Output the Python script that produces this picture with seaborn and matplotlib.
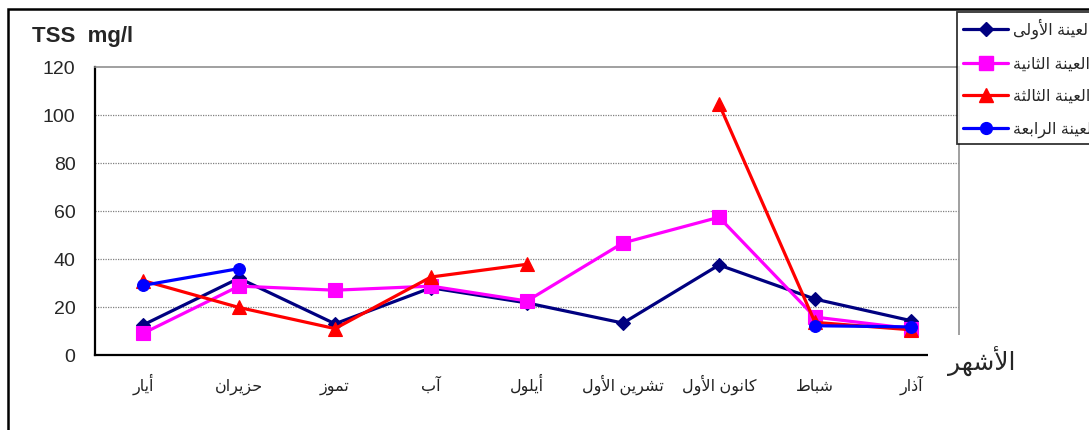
import numpy as np
import pandas as pd
import matplotlib
matplotlib.use("Agg")
import matplotlib.pyplot as plt
from matplotlib.lines import Line2D
from matplotlib.patches import Rectangle
import seaborn as sns

# ---------------- data ----------------
months = ['أيار', 'حزيران', 'تموز', 'آب', 'أيلول', 'تشرين الأول', 'كانون الأول', 'شباط', 'آذار']
series_names = ['العينة الأولى', 'العينة الثانية', 'العينة الثالثة', 'العينة الرابعة']
sample1 = [12.5, 32, 13, 28, 21.7, 13.3, 37.5, 23.3, 14.3]
sample2 = [9, 28.7, 27, 28.7, 22.5, 46.7, 57.4, 15.8, 11]
sample3 = [31, 19.8, 11, 32.5, 37.8, np.nan, 104.6, 13.6, 10.5]
sample4 = [29, 36, np.nan, np.nan, np.nan, np.nan, np.nan, 12.2, 11.7]
y_ticks = [0, 20, 40, 60, 80, 100, 120]
title_text = 'TSS  mg/l'
xlabel_text = 'الأشهر'

# ---------------- minimal Arabic shaping (presentation forms + visual order) ----------------
FORMS = {
    'ا': ('\uFE8D', '\uFE8E'), 'أ': ('\uFE83', '\uFE84'), 'آ': ('\uFE81', '\uFE82'),
    'ب': ('\uFE8F', '\uFE90', '\uFE91', '\uFE92'), 'ة': ('\uFE93', '\uFE94'),
    'ت': ('\uFE95', '\uFE96', '\uFE97', '\uFE98'), 'ث': ('\uFE99', '\uFE9A', '\uFE9B', '\uFE9C'),
    'ح': ('\uFEA1', '\uFEA2', '\uFEA3', '\uFEA4'), 'ذ': ('\uFEAB', '\uFEAC'),
    'ر': ('\uFEAD', '\uFEAE'), 'ز': ('\uFEAF', '\uFEB0'),
    'ش': ('\uFEB5', '\uFEB6', '\uFEB7', '\uFEB8'), 'ط': ('\uFEC1', '\uFEC2', '\uFEC3', '\uFEC4'),
    'ع': ('\uFEC9', '\uFECA', '\uFECB', '\uFECC'), 'ك': ('\uFED9', '\uFEDA', '\uFEDB', '\uFEDC'),
    'ل': ('\uFEDD', '\uFEDE', '\uFEDF', '\uFEE0'), 'م': ('\uFEE1', '\uFEE2', '\uFEE3', '\uFEE4'),
    'ن': ('\uFEE5', '\uFEE6', '\uFEE7', '\uFEE8'), 'ه': ('\uFEE9', '\uFEEA', '\uFEEB', '\uFEEC'),
    'و': ('\uFEED', '\uFEEE'), 'ى': ('\uFEEF', '\uFEF0'),
    'ي': ('\uFEF1', '\uFEF2', '\uFEF3', '\uFEF4'),
}
LAMALEF = {'آ': ('\uFEF5', '\uFEF6'), 'أ': ('\uFEF7', '\uFEF8'), 'ا': ('\uFEFB', '\uFEFC')}


def shape(text):
    words = []
    for w in text.split(' '):
        chars = list(w)
        n = len(chars)
        out = []
        i = 0
        while i < n:
            c = chars[i]
            prev_joins = i > 0 and len(FORMS.get(chars[i - 1], ())) == 4
            if c == 'ل' and i + 1 < n and chars[i + 1] in LAMALEF:
                lig = LAMALEF[chars[i + 1]]
                out.append(lig[1] if prev_joins else lig[0])
                i += 2
                continue
            f = FORMS.get(c)
            if f is None:
                out.append(c)
            elif len(f) == 4:
                nxt = i + 1 < n
                if prev_joins and nxt:
                    out.append(f[3])
                elif prev_joins:
                    out.append(f[1])
                elif nxt:
                    out.append(f[2])
                else:
                    out.append(f[0])
            else:
                out.append(f[1] if prev_joins else f[0])
            i += 1
        words.append(''.join(out))
    return ' '.join(words)[::-1]


# ---------------- style ----------------
sns.set_style('white')
plt.rcParams['font.family'] = ['Liberation Sans', 'DejaVu Sans']

W, H = 1089, 430
fig = plt.figure(figsize=(W / 100, H / 100), dpi=100)
fig.patch.set_facecolor('white')

x0, x1 = 95, 959
y_top, y_bot = 67, 355
ax = fig.add_axes([x0 / W, 1 - y_bot / H, (x1 - x0) / W, (y_bot - y_top) / H])

colors = ['#000080', '#FF00FF', '#FF0000', '#0000FF']
markers = ['D', 's', '^', 'o']
msizes = [7.5, 10.5, 10, 8.5]
all_series = [sample1, sample2, sample3, sample4]

xpos = np.arange(len(months))
for k, vals in enumerate(all_series):
    v = np.array(vals, dtype=float)
    seg = np.cumsum(np.isnan(v))
    df = pd.DataFrame({'x': xpos, 'v': v, 'seg': seg}).dropna()
    sns.lineplot(data=df, x='x', y='v', units='seg', estimator=None, ax=ax,
                 color=colors[k], marker=markers[k], markersize=msizes[k],
                 markeredgecolor=colors[k], markeredgewidth=0.8,
                 linewidth=2.3, legend=False, zorder=3 + k, clip_on=False)

ax.set_xlim(-0.5, len(months) - 0.5)
ax.set_ylim(0, 120)
ax.set_yticks(y_ticks)
ax.set_yticklabels([str(t) for t in y_ticks], fontsize=14)
ax.set_xticks(xpos)
ax.set_xticklabels([shape(m) for m in months], fontsize=11.5, color='#222222')
for lab in ax.get_xticklabels():
    lab.set_verticalalignment('baseline')
ax.set_xticks(np.arange(len(months) + 1) - 0.5, minor=True)
ax.tick_params(axis='x', which='major', length=0, pad=26)
ax.tick_params(axis='x', which='minor', length=7, width=1.3, color='black', direction='out')
ax.tick_params(axis='y', which='major', length=6, width=1.3, color='black', direction='out', pad=8)
ax.set_xlabel('')
ax.set_ylabel('')

for yv in y_ticks[1:-1]:
    ax.axhline(yv, color='#808080', linewidth=0.9, linestyle=(0, (1, 1)), zorder=1)

for s in ['left', 'bottom']:
    ax.spines[s].set_color('black')
    ax.spines[s].set_linewidth(1.6)
for s in ['top', 'right']:
    ax.spines[s].set_color('#909090')
    ax.spines[s].set_linewidth(1.2)

# figure outer frame
fig.add_artist(Rectangle((8 / W, -0.05), 1.2, 1 - 9 / H + 0.05, transform=fig.transFigure,
                         fill=False, edgecolor='black', linewidth=1.8, zorder=0.5))

# title
fig.text(32 / W, 1 - 42 / H, title_text, fontsize=16, fontweight='bold', ha='left', va='baseline')

# white box under x-axis label, covering axis end
fig.add_artist(Rectangle((928 / W, 1 - 392 / H), 110 / W, 57 / H, transform=fig.transFigure,
                         facecolor='white', edgecolor='none', zorder=2))
fig.text(982 / W, 1 - 361 / H, shape(xlabel_text), fontsize=18, ha='center', va='center', zorder=3)

# legend
handles = [Line2D([], [], color=colors[k], marker=markers[k], markersize=msizes[k],
                  markeredgecolor=colors[k], linewidth=2.3) for k in range(4)]
leg = fig.legend(handles, [shape(s) for s in series_names], loc='upper left',
                 bbox_to_anchor=(957 / W, 1 - 12 / H), bbox_transform=fig.transFigure,
                 frameon=True, fancybox=False, fontsize=11.5, handlelength=2.8,
                 handletextpad=0.3, labelspacing=1.1, borderpad=0.4, borderaxespad=0)
leg.get_frame().set_edgecolor('black')
leg.get_frame().set_linewidth(1.3)
leg.set_zorder(10)

fig.savefig('out.png', dpi=100, facecolor='white')
